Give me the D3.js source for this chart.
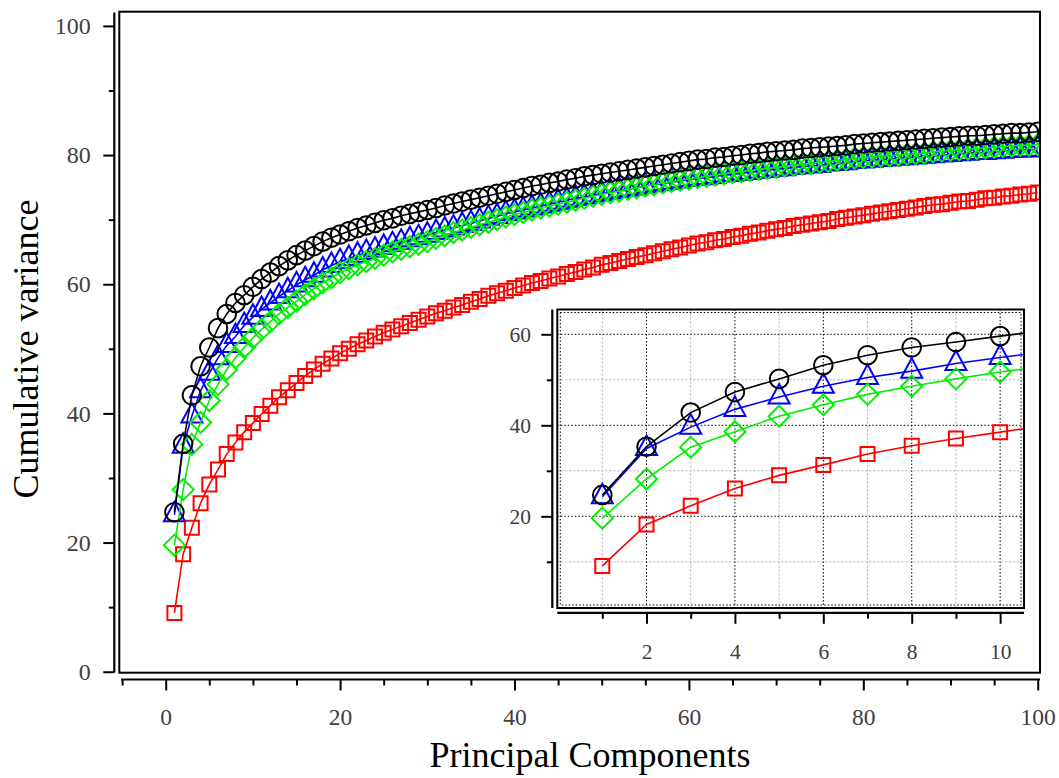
<!DOCTYPE html>
<html>
<head>
<meta charset="utf-8">
<script src="https://cdn.jsdelivr.net/npm/d3@7"></script>
<style>
  body { margin: 0; background: #fff; }
  svg { display: block; font-family: "Liberation Serif", "Times New Roman", serif; }
  .tick text { fill: #404040; font-family: "Liberation Serif", "Times New Roman", serif; }
</style>
</head>
<body>
<div id="chart"></div>
<script>
// cumulative variance per principal component (1..100)
var blackVals = [24.7, 35.3, 42.8, 47.3, 50.2, 53.2, 55.4, 57.1, 58.3, 59.6,
  60.8, 61.8, 62.8, 63.7, 64.5, 65.2, 65.9, 66.6, 67.2, 67.7,
  68.2, 68.7, 69.1, 69.5, 69.9, 70.2, 70.6, 70.9, 71.2, 71.5,
  71.8, 72.2, 72.5, 72.8, 73.1, 73.4, 73.7, 74.0, 74.3, 74.6,
  74.9, 75.2, 75.4, 75.7, 75.9, 76.2, 76.4, 76.7, 76.9, 77.1,
  77.3, 77.5, 77.7, 77.9, 78.1, 78.3, 78.5, 78.7, 78.9, 79.1,
  79.3, 79.4, 79.6, 79.7, 79.9, 80.0, 80.2, 80.3, 80.5, 80.6,
  80.7, 80.8, 81.0, 81.1, 81.2, 81.3, 81.4, 81.5, 81.7, 81.8,
  81.9, 82.0, 82.1, 82.2, 82.3, 82.4, 82.5, 82.6, 82.7, 82.8,
  82.9, 83.0, 83.0, 83.1, 83.2, 83.3, 83.4, 83.4, 83.5, 83.6];

var blueVals = [24.3, 34.9, 39.6, 43.5, 46.2, 48.6, 50.5, 51.9, 53.6, 54.9,
  56.1, 57.1, 58.1, 59.0, 59.9, 60.7, 61.4, 62.2, 62.9, 63.5,
  64.0, 64.5, 64.9, 65.3, 65.7, 66.1, 66.5, 66.9, 67.2, 67.6,
  68.0, 68.4, 68.7, 69.1, 69.4, 69.8, 70.2, 70.5, 70.9, 71.2,
  71.5, 71.8, 72.1, 72.4, 72.7, 73.0, 73.3, 73.5, 73.8, 74.0,
  74.3, 74.5, 74.7, 74.9, 75.2, 75.4, 75.6, 75.8, 76.0, 76.2,
  76.4, 76.5, 76.7, 76.9, 77.0, 77.2, 77.3, 77.5, 77.6, 77.8,
  77.9, 78.1, 78.2, 78.3, 78.4, 78.6, 78.7, 78.8, 79.0, 79.1,
  79.2, 79.3, 79.4, 79.5, 79.6, 79.7, 79.8, 79.9, 80.0, 80.1,
  80.2, 80.3, 80.4, 80.4, 80.5, 80.6, 80.7, 80.8, 80.8, 80.9];

var greenVals = [19.6, 28.2, 35.2, 38.6, 42.0, 44.5, 46.8, 48.6, 50.2, 51.7,
  53.0, 54.2, 55.4, 56.4, 57.4, 58.4, 59.3, 60.2, 61.0, 61.8,
  62.4, 63.0, 63.5, 64.0, 64.5, 65.0, 65.4, 65.8, 66.2, 66.6,
  67.1, 67.5, 68.0, 68.4, 68.8, 69.2, 69.6, 70.0, 70.4, 70.8,
  71.1, 71.5, 71.8, 72.1, 72.4, 72.7, 73.0, 73.3, 73.6, 73.9,
  74.2, 74.4, 74.7, 74.9, 75.2, 75.4, 75.7, 75.9, 76.1, 76.3,
  76.5, 76.7, 76.9, 77.1, 77.3, 77.4, 77.6, 77.8, 77.9, 78.1,
  78.3, 78.4, 78.6, 78.7, 78.9, 79.0, 79.2, 79.3, 79.5, 79.6,
  79.7, 79.8, 79.9, 80.0, 80.1, 80.2, 80.3, 80.5, 80.6, 80.7,
  80.8, 80.9, 81.0, 81.1, 81.2, 81.3, 81.4, 81.5, 81.5, 81.6];

var redVals = [9.1, 18.2, 22.3, 26.1, 29.0, 31.3, 33.7, 35.5, 37.1, 38.5,
  39.9, 41.2, 42.5, 43.6, 44.7, 45.8, 46.8, 47.7, 48.5, 49.3,
  50.0, 50.7, 51.3, 51.9, 52.5, 53.0, 53.5, 54.0, 54.5, 55.0,
  55.5, 55.9, 56.4, 56.8, 57.3, 57.7, 58.2, 58.6, 59.0, 59.4,
  59.8, 60.2, 60.5, 60.9, 61.2, 61.6, 61.9, 62.3, 62.6, 63.0,
  63.3, 63.6, 63.9, 64.2, 64.5, 64.8, 65.1, 65.4, 65.7, 66.0,
  66.3, 66.5, 66.8, 67.0, 67.3, 67.5, 67.8, 68.0, 68.3, 68.5,
  68.7, 69.0, 69.2, 69.4, 69.6, 69.8, 70.1, 70.3, 70.5, 70.7,
  70.9, 71.1, 71.3, 71.5, 71.7, 71.9, 72.1, 72.3, 72.4, 72.6,
  72.8, 72.9, 73.1, 73.3, 73.4, 73.6, 73.7, 73.9, 74.0, 74.2];

var mainYTicks = [0, 20, 40, 60, 80, 100];
var mainXTicks = [0, 20, 40, 60, 80, 100];
var insetYTicks = [20, 40, 60];
var insetXTicks = [2, 4, 6, 8, 10];

// drawing order: red, blue, green, black on top
var series = [
  { name: "red", color: "#ff0000", shape: "square", values: redVals },
  { name: "blue", color: "#0000ff", shape: "triangle", values: blueVals },
  { name: "green", color: "#00f000", shape: "diamond", values: greenVals },
  { name: "black", color: "#000000", shape: "circle", values: blackVals }
];

var width = 1059, height = 778;

var svg = d3.select("#chart").append("svg")
  .attr("width", width).attr("height", height);

function markerPath(shape) {
  if (shape == "circle") return d3.symbol(d3.symbolCircle, Math.PI * 9.3 * 9.3)();
  if (shape == "square") return "M-7,-7L7,-7L7,7L-7,7Z";
  if (shape == "diamond") return "M0,-10.5L10.5,0L0,10.5L-10.5,0Z";
  if (shape == "triangle") return "M0,-13L10.5,6.5L-10.5,6.5Z";
}

function drawPanel(g, x, y, clipId, box) {
  g.append("clipPath").attr("id", clipId).append("rect")
    .attr("x", box[0]).attr("y", box[1])
    .attr("width", box[2] - box[0]).attr("height", box[3] - box[1]);

  var plot = g.append("g").attr("clip-path", "url(#" + clipId + ")");

  var line = d3.line()
    .x(function(d, i) { return x(i + 1); })
    .y(function(d) { return y(d); });

  series.forEach(function(s) {
    var sg = plot.append("g").attr("class", "series-" + s.name);
    sg.append("path").datum(s.values)
      .attr("d", line)
      .attr("fill", "none")
      .attr("stroke", s.color)
      .attr("stroke-width", 1.6);
    sg.selectAll("path.mark").data(s.values).enter().append("path")
      .attr("class", "mark")
      .attr("d", markerPath(s.shape))
      .attr("transform", function(d, i) { return "translate(" + x(i + 1) + "," + y(d) + ")"; })
      .attr("fill", "none")
      .attr("stroke", s.color)
      .attr("stroke-width", 2);
  });
}

function serifAxis(sel, size) {
  sel.attr("font-family", null).attr("font-size", null);
  sel.selectAll("text").style("font-size", size);
}

// ---------- main chart ----------
var mBox = [119.3, 11.7, 1040, 672.7];
var xMain = d3.scaleLinear().domain([-5.32, 100.26]).range([mBox[0], mBox[2]]);
var yMain = d3.scaleLinear().domain([-0.15, 102.2]).range([mBox[3], mBox[1]]);

var mainG = svg.append("g");
drawPanel(mainG, xMain, yMain, "clipMain", mBox);

mainG.append("rect")
  .attr("x", mBox[0]).attr("y", mBox[1])
  .attr("width", mBox[2] - mBox[0]).attr("height", mBox[3] - mBox[1])
  .attr("fill", "none").attr("stroke", "#000").attr("stroke-width", 2);

var yAxisX = 114.3, xAxisY = 679.5;

var yAxisMain = mainG.append("g").attr("transform", "translate(" + yAxisX + ",0)")
  .call(d3.axisLeft(yMain).tickValues(mainYTicks).tickSize(11).tickPadding(12.6));
mainG.append("g").attr("transform", "translate(" + yAxisX + ",0)")
  .call(d3.axisLeft(yMain).tickValues([10, 30, 50, 70, 90]).tickSize(5.5).tickFormat(""));
var xAxisMain = mainG.append("g").attr("transform", "translate(0," + xAxisY + ")")
  .call(d3.axisBottom(xMain).tickValues(mainXTicks).tickSize(11).tickPadding(18));
mainG.append("g").attr("transform", "translate(0," + xAxisY + ")")
  .call(d3.axisBottom(xMain).tickValues([-5, 5, 10, 15, 25, 30, 35, 45, 50, 55, 65, 70, 75, 85, 90, 95])
    .tickSize(6).tickFormat(""));
mainG.selectAll(".domain").remove();
mainG.selectAll(".tick line").attr("stroke", "#000").attr("stroke-width", 2);
serifAxis(yAxisMain, "24px");
serifAxis(xAxisMain, "23.5px");

mainG.append("line")
  .attr("x1", yAxisX).attr("x2", yAxisX).attr("y1", 12.5).attr("y2", 672.5)
  .attr("stroke", "#000").attr("stroke-width", 2.2);
mainG.append("line")
  .attr("x1", xMain(-5) - 1).attr("x2", mBox[2]).attr("y1", xAxisY).attr("y2", xAxisY)
  .attr("stroke", "#000").attr("stroke-width", 2.2);

svg.append("text")
  .attr("x", 590).attr("y", 767)
  .attr("text-anchor", "middle")
  .style("font-size", "36px")
  .text("Principal Components");

svg.append("text")
  .attr("transform", "translate(38,349) rotate(-90)")
  .attr("text-anchor", "middle")
  .style("font-size", "36px")
  .text("Cumulative variance");

// ---------- inset ----------
var iBox = [557.3, 309.5, 1024, 608];
var xIn = d3.scaleLinear().domain([-0.018, 10.54]).range([iBox[0], iBox[2]]);
var yIn = d3.scaleLinear().domain([-0.15, 65.45]).range([iBox[3], iBox[1]]);

var inG = svg.append("g");
inG.append("rect")
  .attr("x", iBox[0]).attr("y", iBox[1])
  .attr("width", iBox[2] - iBox[0]).attr("height", iBox[3] - iBox[1])
  .attr("fill", "#fff");

// grid: light dotted minor, dark dotted major
var gridG = inG.append("g");
gridG.selectAll("line.vminor").data([1, 3, 5, 7, 9]).enter().append("line")
  .attr("x1", function(d) { return xIn(d); }).attr("x2", function(d) { return xIn(d); })
  .attr("y1", iBox[1]).attr("y2", iBox[3])
  .attr("stroke", "#b0b0b0").attr("stroke-width", 1).attr("stroke-dasharray", "2,2");
gridG.selectAll("line.hminor").data([10, 30, 50]).enter().append("line")
  .attr("y1", function(d) { return yIn(d); }).attr("y2", function(d) { return yIn(d); })
  .attr("x1", iBox[0]).attr("x2", iBox[2])
  .attr("stroke", "#b0b0b0").attr("stroke-width", 1).attr("stroke-dasharray", "2,2");
gridG.selectAll("line.vmajor").data(insetXTicks).enter().append("line")
  .attr("x1", function(d) { return xIn(d); }).attr("x2", function(d) { return xIn(d); })
  .attr("y1", iBox[1]).attr("y2", iBox[3])
  .attr("stroke", "#000").attr("stroke-width", 1).attr("stroke-dasharray", "1.5,2");
gridG.selectAll("line.hmajor").data(insetYTicks).enter().append("line")
  .attr("y1", function(d) { return yIn(d); }).attr("y2", function(d) { return yIn(d); })
  .attr("x1", iBox[0]).attr("x2", iBox[2])
  .attr("stroke", "#000").attr("stroke-width", 1).attr("stroke-dasharray", "1.5,2");

drawPanel(inG, xIn, yIn, "clipInset", iBox);

inG.append("rect")
  .attr("x", iBox[0]).attr("y", iBox[1])
  .attr("width", iBox[2] - iBox[0]).attr("height", iBox[3] - iBox[1])
  .attr("fill", "none").attr("stroke", "#000").attr("stroke-width", 2);
inG.append("rect")
  .attr("x", iBox[0] + 3).attr("y", iBox[1] + 3)
  .attr("width", iBox[2] - iBox[0] - 6).attr("height", iBox[3] - iBox[1] - 6)
  .attr("fill", "none").attr("stroke", "#000").attr("stroke-width", 1).attr("stroke-dasharray", "1.5,2");

var iyAxisX = 552.3, ixAxisY = 612.8;
var yAxisIn = inG.append("g").attr("transform", "translate(" + iyAxisX + ",0)")
  .call(d3.axisLeft(yIn).tickValues(insetYTicks).tickSize(11).tickPadding(10.3));
inG.append("g").attr("transform", "translate(" + iyAxisX + ",0)")
  .call(d3.axisLeft(yIn).tickValues([10, 30, 50]).tickSize(5.5).tickFormat(""));
var xAxisIn = inG.append("g").attr("transform", "translate(0," + ixAxisY + ")")
  .call(d3.axisBottom(xIn).tickValues(insetXTicks).tickSize(11).tickPadding(19.5));
inG.append("g").attr("transform", "translate(0," + ixAxisY + ")")
  .call(d3.axisBottom(xIn).tickValues([1, 3, 5, 7, 9]).tickSize(6).tickFormat(""));
inG.selectAll(".domain").remove();
inG.selectAll(".tick line").attr("stroke", "#000").attr("stroke-width", 2);
serifAxis(yAxisIn, "21.5px");
serifAxis(xAxisIn, "21.5px");

inG.append("line")
  .attr("x1", iyAxisX).attr("x2", iyAxisX).attr("y1", iBox[1]).attr("y2", iBox[3])
  .attr("stroke", "#000").attr("stroke-width", 2.2);
inG.append("line")
  .attr("x1", iBox[0]).attr("x2", iBox[2]).attr("y1", ixAxisY).attr("y2", ixAxisY)
  .attr("stroke", "#000").attr("stroke-width", 2.2);
</script>
</body>
</html>
